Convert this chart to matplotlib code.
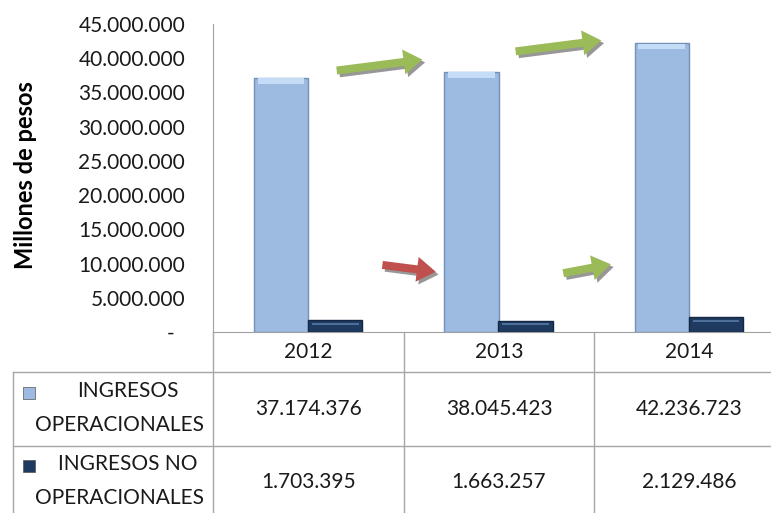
import numpy as np
import matplotlib
matplotlib.use("Agg")
import matplotlib.pyplot as plt
from matplotlib.lines import Line2D
from matplotlib.patches import Rectangle
import matplotlib.patheffects as pe

# datos del grafico
anios = ["2012", "2013", "2014"]
series = ["INGRESOS\nOPERACIONALES", "INGRESOS NO\nOPERACIONALES"]
ing_operacionales = [37174376, 38045423, 42236723]
ing_no_operacionales = [1703395, 1663257, 2129486]
ticks_y = [0, 5000000, 10000000, 15000000, 20000000, 25000000,
           30000000, 35000000, 40000000, 45000000]

plt.rcParams['font.family'] = ['Lato', 'DejaVu Sans']

W, H = 771, 513
fig = plt.figure(figsize=(W / 100, H / 100), dpi=100)


def fx(px):
    return px / W


def fy(py):
    return 1 - py / H


def miles(v):
    # formato con punto como separador de miles
    if v == 0:
        return "-  "
    return f"{v:,.0f}".replace(",", ".")


# ejes principales (el lado derecho queda fuera de la imagen como en el original)
x0, x1, ytop, ybase = 213, 784, 24, 332
ax = fig.add_axes([fx(x0), fy(ybase), fx(x1) - fx(x0), fy(ytop) - fy(ybase)])

c_claro = "#9DBBE1"
c_oscuro = "#1F3A60"
x = np.arange(len(anios))
w = 0.285
ax.bar(x - w / 2, ing_operacionales, w, color=c_claro, edgecolor="#7391B8", linewidth=1.0, zorder=3)
ax.bar(x + w / 2, ing_no_operacionales, w, color=c_oscuro, edgecolor="#142845", linewidth=1.0, zorder=3)

# brillo superior en las barras
for xi, v in zip(x, ing_operacionales):
    ax.add_patch(Rectangle((xi - w + 0.02, v - 900000), w - 0.04, 800000,
                           color="#C4DCF5", lw=0, zorder=4))
for xi, v in zip(x, ing_no_operacionales):
    ax.add_patch(Rectangle((xi + 0.02, v - 700000), w - 0.04, 350000,
                           color="#4C6E99", lw=0, zorder=4))

ax.set_xlim(-0.5, 2.5)
ax.set_ylim(0, 45000000)
ax.set_yticks(ticks_y)
ax.set_yticklabels([miles(t) for t in ticks_y], fontsize=15, color="#1A1A1A")
ax.tick_params(axis="y", length=0, pad=20)
ax.set_xticks([])
for s in ["top", "right"]:
    ax.spines[s].set_visible(False)
ax.spines["left"].set_color("#A0A0A0")
ax.spines["bottom"].set_color("#A0A0A0")
ax.set_facecolor("none")

fig.text(fx(26), fy(175), "Millones de pesos", rotation=90, ha="center", va="center",
         fontsize=17, fontweight="bold", color="#000000")

# flechas de tendencia
flechas = [
    ((0.15, 38.2e6), (0.60, 39.8e6), "#9BBB59"),
    ((1.09, 41.0e6), (1.54, 42.6e6), "#9BBB59"),
    ((0.39, 9.8e6), (0.67, 8.8e6), "#C0504D"),
    ((1.34, 8.6e6), (1.59, 9.9e6), "#9BBB59"),
]
for (xa, ya), (xb, yb), col in flechas:
    ax.annotate("", xy=(xb, yb), xytext=(xa, ya),
                arrowprops=dict(arrowstyle="simple,head_length=0.75,head_width=1.0,tail_width=0.32",
                                mutation_scale=18, color=col, lw=0, shrinkA=0, shrinkB=0,
                                path_effects=[pe.SimplePatchShadow(offset=(2, -2), shadow_rgbFace="#8C8C8C", alpha=0.9),
                                              pe.Normal()]),
                zorder=5)

# tabla de datos
gris = "#A6A6A6"
cols = [213, 404, 594, 784]


def linea(xa, ya, xb, yb):
    fig.add_artist(Line2D([fx(xa), fx(xb)], [fy(ya), fy(yb)], color=gris, lw=1.0))


for cx in cols[:-1]:
    linea(cx, 332, cx, 513)
linea(13, 372, 784, 372)
linea(13, 446, 784, 446)
linea(13, 372, 13, 513)

for i, a in enumerate(anios):
    xc = (cols[i] + cols[i + 1]) / 2
    fig.text(fx(xc), fy(352), a, ha="center", va="center", fontsize=15, color="#1A1A1A")
    fig.text(fx(xc), fy(409), miles(ing_operacionales[i]), ha="center", va="center", fontsize=15, color="#1A1A1A")
    fig.text(fx(xc), fy(482), miles(ing_no_operacionales[i]), ha="center", va="center", fontsize=15, color="#1A1A1A")

# etiquetas de serie con su clave de color
for j, (nombre, col, yc) in enumerate(zip(series, [c_claro, c_oscuro], [409, 482])):
    l1, l2 = nombre.split("\n")
    fig.text(fx(128), fy(yc - 18), l1, ha="center", va="center", fontsize=15, color="#1A1A1A")
    fig.text(fx(120), fy(yc + 16), l2, ha="center", va="center", fontsize=15, color="#1A1A1A")
    fig.add_artist(Rectangle((fx(23), fy(yc - 10)), fx(12), fy(0) - fy(12),
                             facecolor=col, edgecolor="#555555", lw=0.5))

fig.savefig("out.png", dpi=100)
